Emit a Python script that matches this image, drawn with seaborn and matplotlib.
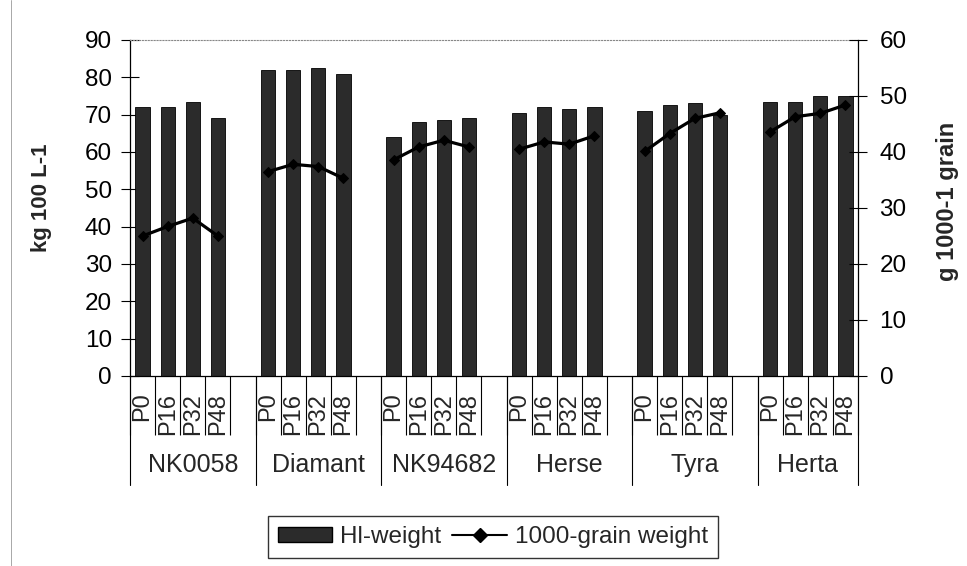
import numpy as np
import pandas as pd
import matplotlib
matplotlib.use("Agg")
import matplotlib.pyplot as plt
import matplotlib.transforms as mtrans
from matplotlib.lines import Line2D
from matplotlib.patches import Patch
import seaborn as sns

# ---------------- data ----------------
groups = ["NK0058", "Diamant", "NK94682", "Herse", "Tyra", "Herta"]
treatments = ["P0", "P16", "P32", "P48"]
# Hl-weight (kg 100 L-1), left axis
hl_nk0058 = [72.0, 72.0, 73.5, 69.0]
hl_diamant = [82.0, 82.0, 82.5, 81.0]
hl_nk94682 = [64.0, 68.0, 68.5, 69.0]
hl_herse = [70.5, 72.0, 71.5, 72.0]
hl_tyra = [71.0, 72.5, 73.0, 70.0]
hl_herta = [73.5, 73.5, 75.0, 75.0]
# 1000-grain weight (g), right axis
tgw_nk0058 = [25.0, 26.7, 28.2, 25.0]
tgw_diamant = [36.5, 37.8, 37.4, 35.3]
tgw_nk94682 = [38.6, 40.9, 42.1, 40.9]
tgw_herse = [40.5, 41.8, 41.4, 42.9]
tgw_tyra = [40.1, 43.3, 46.0, 47.0]
tgw_herta = [43.6, 46.3, 46.9, 48.4]

hl_all = [hl_nk0058, hl_diamant, hl_nk94682, hl_herse, hl_tyra, hl_herta]
tgw_all = [tgw_nk0058, tgw_diamant, tgw_nk94682, tgw_herse, tgw_tyra, tgw_herta]

rows = []
for gi, g in enumerate(groups):
    for ti, t in enumerate(treatments):
        rows.append({"group": g, "treatment": t, "slot": gi * 5 + ti,
                     "hl": hl_all[gi][ti], "tgw": tgw_all[gi][ti]})
df = pd.DataFrame(rows)

# ---------------- style ----------------
sns.set_style("white")
plt.rcParams["font.family"] = ["Liberation Sans", "DejaVu Sans"]

fig = plt.figure(figsize=(9.67, 5.66), dpi=100)
ax = fig.add_axes([130 / 967, 1 - 376 / 566, 728 / 967, 336 / 566])
ax2 = ax.twinx()

bar_color = "#2b2b2b"
sns.barplot(data=df, x="slot", y="hl", native_scale=True, width=0.57,
            color=bar_color, saturation=1, edgecolor="black", linewidth=0.6,
            ax=ax, errorbar=None)
sns.lineplot(data=df, x="slot", y="tgw", units="group", estimator=None,
             color="black", marker="D", markersize=5.5, markeredgecolor="black",
             linewidth=2.3, ax=ax2, legend=False)

ax.set_xlim(-0.5, 28.5)
ax.set_ylim(0, 90)
ax2.set_ylim(0, 60)
ax.set_xlabel("")
ax2.set_xlabel("")

# y axes
ax.set_yticks(range(0, 91, 10))
ax2.set_yticks(range(0, 61, 10))
ax.tick_params(axis="y", direction="inout", length=13, width=0.8, labelsize=17.5,
               pad=6.5, colors="black", left=True)
ax2.tick_params(axis="y", direction="inout", length=13, width=0.8, labelsize=17.5,
                pad=9, colors="black", right=True)
ax.set_ylabel("kg 100 L-1", fontsize=16, fontweight="bold")
ax2.set_ylabel("g 1000-1 grain", fontsize=17, fontweight="bold")
ax.yaxis.set_label_coords(-0.107, 0.53)
ax2.yaxis.set_label_coords(1.107, 0.52)

# x axis: boundaries as long ticks, treatments as labels
bounds = np.arange(-0.5, 29.0, 1.0)
ax.set_xticks(bounds)
ax.set_xticklabels([])
ax.tick_params(axis="x", which="major", direction="out", length=42.5,
               width=0.8, color="black", bottom=True)
ax.set_xticks(df["slot"].tolist(), minor=True)
ax.set_xticklabels(df["treatment"].tolist(), minor=True, rotation=90,
                   fontsize=17)
ax.tick_params(axis="x", which="minor", length=0, pad=12)

trans = mtrans.blended_transform_factory(ax.transData, ax.transAxes)
sep = [-0.5, 4.5, 9.5, 14.5, 19.5, 24.5, 28.5]
for xs in sep:
    ax.plot([xs, xs], [0, -0.324], transform=trans, color="black", lw=0.8,
            clip_on=False)
for gi, g in enumerate(groups):
    c = 26.5 if gi == len(groups) - 1 else gi * 5 + 2
    ax.text(c, -0.265, g, transform=trans, ha="center", va="center",
            fontsize=18)

# spines
for s in ["left", "bottom"]:
    ax.spines[s].set_color("black")
    ax.spines[s].set_linewidth(0.9)
ax.spines["right"].set_visible(False)
ax.spines["top"].set_linestyle(":")
ax.spines["top"].set_color("#888888")
for s in ["top", "left", "bottom"]:
    ax2.spines[s].set_visible(False)
ax2.spines["right"].set_color("black")
ax2.spines["right"].set_linewidth(0.9)
ax.grid(False)
ax2.grid(False)

# legend
handles = [Patch(facecolor=bar_color, edgecolor="black"),
           Line2D([], [], color="black", marker="D", markersize=7, lw=1.5)]
leg = fig.legend(handles, ["Hl-weight", "1000-grain weight"], loc="center",
                 bbox_to_anchor=(493 / 967, 1 - 537 / 566), ncol=2,
                 frameon=True, fancybox=False, edgecolor="black", fontsize=17.5,
                 handlelength=2.25, handleheight=0.6, columnspacing=0.45,
                 handletextpad=0.33, borderpad=0.4, borderaxespad=0)
leg.get_frame().set_linewidth(1.0)

# faint page edge seen in scan
fig.add_artist(Line2D([11 / 967, 11 / 967], [0.0, 1.0], color="#9a9a9a",
                      lw=0.6))

fig.savefig("out.png", dpi=100)
